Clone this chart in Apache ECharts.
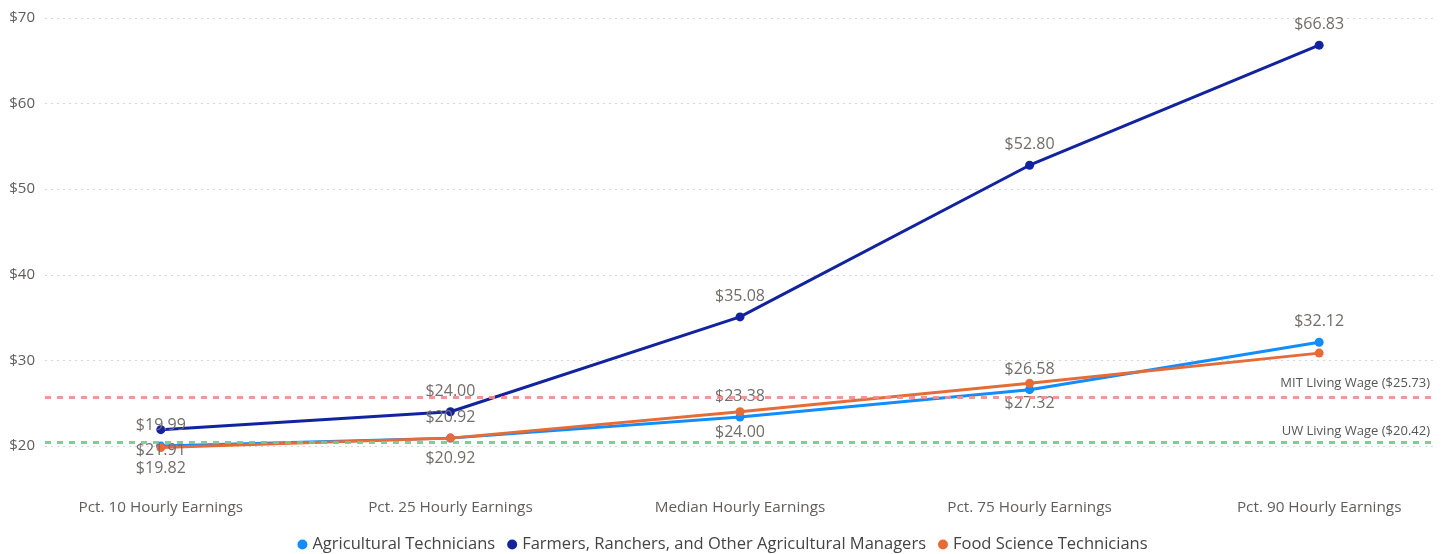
<!DOCTYPE html>
<html>
<head>
<meta charset="utf-8">
<script src="https://cdn.jsdelivr.net/npm/echarts@6/dist/echarts.min.js"></script>
<style>
html,body{margin:0;padding:0;background:#fff;}
#chart{width:1445px;height:554px;}
</style>
</head>
<body>
<div id="chart"></div>
<script>
const categories = ['Pct. 10 Hourly Earnings','Pct. 25 Hourly Earnings','Median Hourly Earnings','Pct. 75 Hourly Earnings','Pct. 90 Hourly Earnings'];
const agTech = [19.99, 20.92, 23.38, 26.58, 32.12];
const farmers = [21.91, 24.00, 35.08, 52.80, 66.83];
const foodSci = [19.82, 20.92, 24.00, 27.32, 30.85];
const seriesNames = ['Agricultural Technicians','Farmers, Ranchers, and Other Agricultural Managers','Food Science Technicians'];
const mitWage = 25.73;
const uwWage = 20.42;
const yTicks = [20, 30, 40, 50, 60, 70];

const FONT = '"Open Sans", "Noto Sans", sans-serif';
const labelColor = '#726d6a';

function build(vals, positions, hidden) {
  return vals.map((v, i) => ({
    value: [i, v],
    label: { show: !(hidden && hidden.includes(i)), position: positions[i] }
  }));
}

const chart = echarts.init(document.getElementById('chart'));
const baseLabel = {
  show: true, fontFamily: FONT, fontSize: 16, color: labelColor, distance: 8,
  formatter: p => '$' + p.value[1].toFixed(2)
};
chart.setOption({
  animation: false,
  grid: { left: 45, right: 10, top: 18, bottom: 108 },
  legend: {
    top: 531, left: 'center', icon: 'circle', itemWidth: 10, itemHeight: 10, itemGap: 12,
    textStyle: { fontFamily: FONT, fontSize: 16.5, color: '#444' }
  },
  xAxis: {
    type: 'value', min: -0.4, max: 4.4,
    axisLine: { show: false }, axisTick: { show: false }, splitLine: { show: false },
    axisLabel: {
      customValues: categories.map((c, i) => i),
      formatter: v => categories[Math.round(v)] || '',
      fontFamily: FONT, fontSize: 15.3, color: '#605E5C', margin: 54
    }
  },
  yAxis: {
    type: 'value', min: yTicks[0], max: yTicks[yTicks.length - 1], interval: 10,
    axisLine: { show: false }, axisTick: { show: false },
    axisLabel: { formatter: v => '$' + v, fontFamily: FONT, fontSize: 15, color: '#605E5C', margin: 10 },
    splitLine: { lineStyle: { type: [2, 4], color: '#d6d6d6', width: 1 } }
  },
  series: [
    {
      name: seriesNames[0], type: 'line', clip: false, symbol: 'circle', symbolSize: 9,
      color: '#118DFF', lineStyle: { width: 3 },
      label: baseLabel,
      data: build(agTech, ['top','top','top','top','top']),
      markLine: {
        silent: true, symbol: 'none',
        data: [
          { yAxis: mitWage, lineStyle: { color: '#F08C8C', type: [6, 6], width: 3, opacity: 0.9 },
            label: { show: true, position: 'insideEndTop', formatter: 'MIT LIving Wage ($' + mitWage.toFixed(2) + ')', fontFamily: FONT, fontSize: 13, color: '#444', distance: [5, 7] } },
          { yAxis: uwWage, lineStyle: { color: '#6CCB8B', type: [6, 6], width: 3, opacity: 0.9 },
            label: { show: true, position: 'insideEndTop', formatter: 'UW Living Wage ($' + uwWage.toFixed(2) + ')', fontFamily: FONT, fontSize: 13, color: '#444', distance: [5, 5] } }
        ]
      }
    },
    {
      name: seriesNames[1], type: 'line', clip: false, symbol: 'circle', symbolSize: 9,
      color: '#12239E', lineStyle: { width: 3 },
      label: baseLabel,
      data: build(farmers, ['bottom','top','top','top','top'])
    },
    {
      name: seriesNames[2], type: 'line', clip: false, symbol: 'circle', symbolSize: 9,
      color: '#E66C37', lineStyle: { width: 3 },
      label: baseLabel,
      data: build(foodSci, ['bottom','bottom','bottom','bottom','bottom'], [4])
    }
  ]
});
</script>
</body>
</html>
